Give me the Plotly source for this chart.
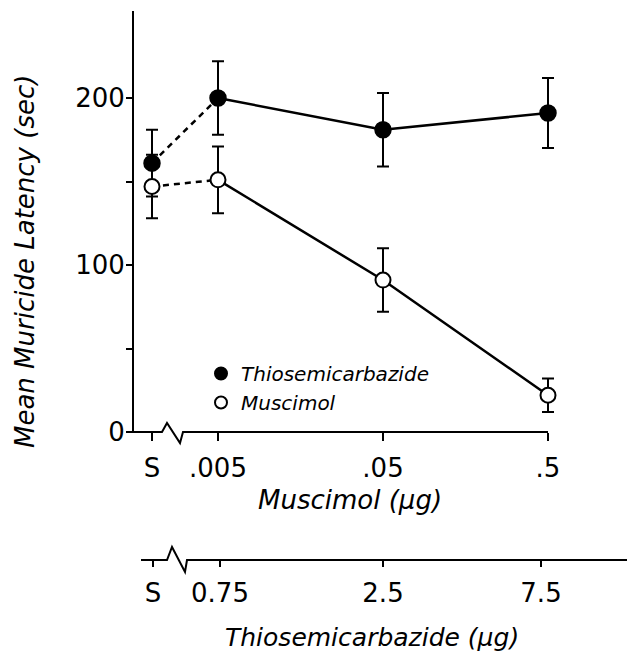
import math
import plotly.graph_objects as go

# ---------------- data ----------------
muscimol_doses = ["S", ".005", ".05", ".5"]          # muscimol (ug) tick labels
muscimol_dose_values = [None, 0.005, 0.05, 0.5]
thio_doses = ["S", "0.75", "2.5", "7.5"]              # thiosemicarbazide (ug) tick labels

thio_mean = [161, 200, 181, 191]
thio_err = [20, 22, 22, 21]
musc_mean = [147, 151, 91, 22]
musc_err = [19, 20, 19, 10]

y_ticks = [0, 100, 200]
y_minor = [50, 150]

# ---------------- layout geometry (page pixels) ----------------
PAGE_W, PAGE_H = 635, 653
OFF = 8                                   # page body margin
FW, FH = PAGE_W - OFF, PAGE_H - OFF
PL, PR, PT, PB = 110, 630, 9, 610         # plot area in page pixels
ML, MR, MT, MB = PL - OFF, FW - (PR - OFF), PT - OFF, FH - (PB - OFF)
X0PX, XSCALE = 218, 165.0     # page pixel of first dose, pixels per decade
Y0PX, YSCALE = 432, 1.67      # page pixel of y=0, pixels per unit
SALINE_POS = -0.4

def px2x(px):
    return (px - X0PX) / XSCALE

def py2y(py):
    return (Y0PX - py) / YSCALE

plot_w = PR - PL
plot_h = PB - PT
x_range = [px2x(PL), px2x(PR)]
y_range = [py2y(PB), py2y(PT)]

def xpos(v):
    return SALINE_POS if v is None else math.log10(v / 0.005)

xs = [xpos(v) for v in muscimol_dose_values]
thio_tick_pos = [px2x(153), px2x(220), px2x(383), px2x(541)]

def paper_y(py):
    return (PB - py) / plot_h

def paper_x(px):
    return (px - PL) / plot_w

fig = go.Figure()

# connecting lines: dashed from saline, solid afterwards
for mean in (thio_mean, musc_mean):
    fig.add_trace(go.Scatter(x=xs[:2], y=mean[:2], mode="lines",
                             line=dict(color="black", width=2.5, dash="6px,5px"),
                             showlegend=False, hoverinfo="skip"))
    fig.add_trace(go.Scatter(x=xs[1:], y=mean[1:], mode="lines",
                             line=dict(color="black", width=2.5),
                             showlegend=False, hoverinfo="skip"))

fig.add_trace(go.Scatter(
    x=xs, y=thio_mean, mode="markers", name="Thiosemicarbazide",
    marker=dict(symbol="circle", size=16, color="black", line=dict(color="black", width=1.5)),
    error_y=dict(type="data", array=thio_err, color="black", thickness=2, width=6),
))
fig.add_trace(go.Scatter(
    x=xs, y=musc_mean, mode="markers", name="Muscimol",
    marker=dict(symbol="circle", size=15, color="white", line=dict(color="black", width=2)),
    error_y=dict(type="data", array=musc_err, color="black", thickness=2, width=6),
))
# invisible trace to anchor the second x axis
fig.add_trace(go.Scatter(x=thio_tick_pos, y=[None] * 4, xaxis="x2", yaxis="y",
                         mode="markers", showlegend=False, hoverinfo="skip"))

# axis lines with breaks
def path(points):
    return "M " + " L ".join(f"{px2x(a):.5f},{py2y(b):.5f}" for a, b in points)

yx = 133
shapes = [
    dict(type="line", xref="x", yref="y", x0=px2x(yx), x1=px2x(yx), y0=0, y1=py2y(11),
         line=dict(color="black", width=2)),
    dict(type="path", xref="x", yref="y",
         path=path([(yx, 432), (162, 432), (167, 423), (180, 443), (183, 432), (548, 432)]),
         line=dict(color="black", width=2)),
    dict(type="path", xref="x", yref="y",
         path=path([(141, 560), (167, 560), (172, 547), (185, 572), (187, 560), (634, 560)]),
         line=dict(color="black", width=2)),
]

tick_font = dict(family="DejaVu Sans", size=26, color="black")
title_font = dict(family="DejaVu Sans", size=26, color="black", style="italic")

fig.update_layout(
    width=FW, height=FH,
    margin=dict(l=ML, r=MR, t=MT, b=MB, autoexpand=False),
    paper_bgcolor="white", plot_bgcolor="white",
    shapes=shapes,
    showlegend=True,
    legend=dict(x=paper_x(201), y=paper_y(354), xanchor="left", yanchor="top",
                font=dict(family="DejaVu Sans", size=20, color="black", style="italic"),
                bgcolor="rgba(0,0,0,0)", tracegroupgap=0, itemwidth=30,
                itemsizing="constant"),
    xaxis=dict(range=x_range, anchor="free", position=paper_y(432),
               showgrid=False, zeroline=False, showline=False,
               tickmode="array", tickvals=xs, ticktext=muscimol_doses,
               ticks="outside", ticklen=8, tickwidth=2, tickcolor="black",
               tickfont=tick_font, ticklabelstandoff=5),
    xaxis2=dict(range=x_range, overlaying="x", anchor="free", position=paper_y(560),
                side="bottom",
                showgrid=False, zeroline=False, showline=False,
                tickmode="array", tickvals=thio_tick_pos, ticktext=thio_doses,
                ticks="outside", ticklen=6, tickwidth=2, tickcolor="black",
                tickfont=tick_font, ticklabelstandoff=4),
    yaxis=dict(range=y_range, anchor="free", position=paper_x(yx),
               showgrid=False, zeroline=False, showline=False,
               tickmode="array", tickvals=y_ticks, ticktext=[str(v) for v in y_ticks],
               ticks="outside", ticklen=7, tickwidth=2, tickcolor="black",
               minor=dict(tickmode="array", tickvals=y_minor, ticks="outside",
                          ticklen=7, tickwidth=2, tickcolor="black", showgrid=False),
               tickfont=tick_font, ticklabelstandoff=-4),
    annotations=[
        dict(text="Muscimol (μg)", xref="paper", yref="paper",
             x=paper_x(350), y=paper_y(500), xanchor="center", yanchor="middle",
             showarrow=False, font=title_font),
        dict(text="Thiosemicarbazide (μg)", xref="paper", yref="paper",
             x=paper_x(372), y=paper_y(637), xanchor="center", yanchor="middle",
             showarrow=False, font=dict(title_font, size=25)),
        dict(text="Mean Muricide Latency (sec)", xref="paper", yref="paper",
             x=paper_x(25), y=paper_y(262), xanchor="center", yanchor="middle",
             textangle=-90, showarrow=False, font=title_font),
    ],
)

fig.write_html("out.html")
